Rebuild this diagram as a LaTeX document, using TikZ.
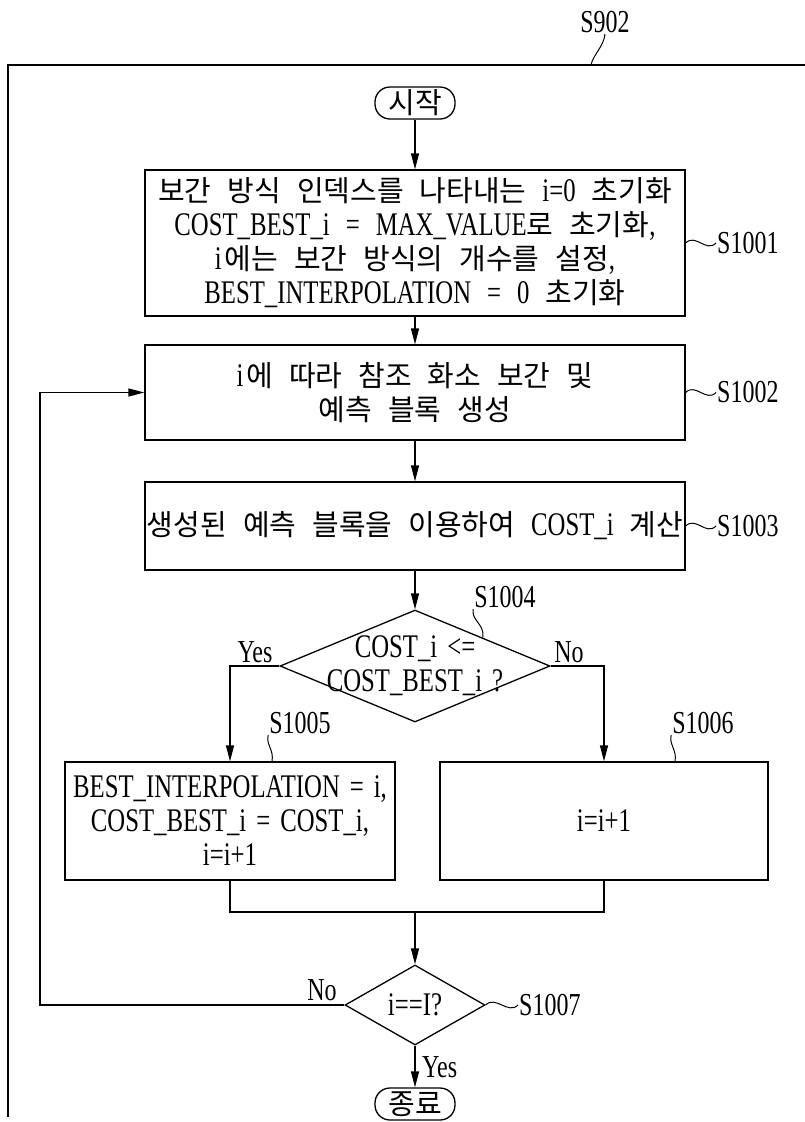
\documentclass[tikz,border=0pt]{standalone}
\usepackage{fontspec}
\setmainfont[FakeStretch=0.75]{Liberation Serif}
\newfontfamily\cjk{Noto Sans CJK KR}
\newcommand\hg[1]{{\cjk\fontsize{29}{34}\selectfont #1}}
\newcommand\txtfont{\fontsize{33}{34}\selectfont\spaceskip=16pt\relax}
\newcommand\narrowfont{\fontsize{33}{34}\selectfont\spaceskip=10pt\relax}
\newcommand\labfont{\fontsize{32}{34}\selectfont}
\newcommand\ii{i\kern3pt}
\usetikzlibrary{shapes.geometric,arrows.meta}
\tikzset{
  ln/.style={line width=1.3pt},
  arr/.style={ln,-{Triangle[length=16pt,width=8pt]}},
  box/.style={draw,ln,inner sep=0pt,align=center,font=\txtfont},
  dia/.style={draw,ln,diamond,inner sep=0pt},
  term/.style={draw,ln,rounded corners=15pt,minimum width=80,minimum height=32,inner sep=0pt,font=\txtfont},
  lab/.style={inner sep=1pt,font=\labfont},
  lead/.style={line width=1pt}
}
\begin{document}
\begin{tikzpicture}[x=1pt,y=-1pt]
\useasboundingbox (0,0) rectangle (805,1122);
% frame
\draw[ln] (805,65) -- (8,65) -- (8,1117);
\node[lab] (l902) at (605,22) {S902};
\coordinate (f902) at (591,65);
\draw[lead] (l902.south) .. controls +(-1,12) and +(2,-10) .. (f902);
% nodes
\node[term] (st) at (415,103) {\hg{시작}};
\node[box,minimum width=540,minimum height=146] (b1) at (415,243)
  {\hg{보간 방식 인덱스를 나타내는} i=0 \hg{초기화}\\
   COST\_BEST\_i = MAX\_VALUE\hg{로 초기화},\\
   \ii\hg{에는 보간 방식의 개수를 설정},\\
   BEST\_INTERPOLATION = 0 \hg{초기화}};
\node[box,minimum width=540,minimum height=95] (b2) at (415,392.5)
  {\ii\hg{에 따라 참조 화소 보간 및}\\ \hg{예측 블록 생성}};
\node[box,minimum width=540,minimum height=88] (b3) at (415,526)
  {\hg{생성된 예측 블록을 이용하여} COST\_i \hg{계산}};
\node[dia,minimum width=270,minimum height=112] (d1) at (415,666) {};
\node[font=\narrowfont,align=center,inner sep=0pt] (t1) at (d1.center) {COST\_i <=\\COST\_BEST\_i ?};
\node[box,font=\narrowfont,minimum width=330,minimum height=118] (b5) at (230,821)
  {BEST\_INTERPOLATION = i,\\COST\_BEST\_i = COST\_i,\\i=i+1};
\node[box,minimum width=328,minimum height=118] (b6) at (604,821) {i=i+1};
\node[dia,minimum width=140,minimum height=80] (d2) at (415,1005) {};
\node[font=\txtfont,inner sep=0pt] (t2) at (d2.center) {i==I?};
\node[term] (en) at (415,1104) {\hg{종료}};
% step labels
\node[lab,anchor=west] (l1) at (716,243) {S1001};
\node[lab,anchor=west] (l2) at (716,392.5) {S1002};
\node[lab,anchor=west] (l3) at (716,526) {S1003};
\node[lab] (l4) at (505,597) {S1004};
\node[lab] (l5) at (300,723) {S1005};
\node[lab] (l6) at (703,723) {S1006};
\node[lab,anchor=west] (l7) at (518,1005) {S1007};
\coordinate (c5) at (272,762);
\coordinate (c6) at (675,762);
\draw[lead] (b1.east) .. controls +(10,-10) and +(-10,10) .. (l1.west);
\draw[lead] (b2.east) .. controls +(10,-10) and +(-10,10) .. (l2.west);
\draw[lead] (b3.east) .. controls +(10,-10) and +(-10,10) .. (l3.west);
\draw[lead] (d1.north east) .. controls +(2,-14) and +(-2,12) .. (l4.south west);
\draw[lead] (c5) .. controls +(2,-14) and +(-2,12) .. (l5.south west);
\draw[lead] (c6) .. controls +(2,-14) and +(-2,12) .. (l6.south west);
\draw[lead] (d2.east) .. controls +(10,-10) and +(-10,10) .. (l7.west);
% connectors
\draw[arr] (st) -- (b1);
\draw[arr] (b1) -- (b2);
\draw[arr] (b2) -- (b3);
\draw[arr] (b3) -- (d1);
\draw[arr] (d1.west) -| (b5.north);
\draw[arr] (d1.east) -| (b6.north);
\coordinate (m) at (415,912);
\coordinate (lx) at (40,912);
\draw[ln] (b5.south) |- (m) -| (b6.south);
\draw[arr] (m) -- (d2.north);
\draw[arr] (d2.west) -- (d2.west -| lx) |- (b2.west);
\draw[arr] (d2.south) -- (en.north);
% branch labels
\node[lab] (y1) at (255,652) {Yes};
\node[lab] (n1) at (569,652) {No};
\node[lab] (n2) at (322,990) {No};
\node[lab,anchor=west] (y2) at (421,1067) {Yes};
\end{tikzpicture}
\end{document}
